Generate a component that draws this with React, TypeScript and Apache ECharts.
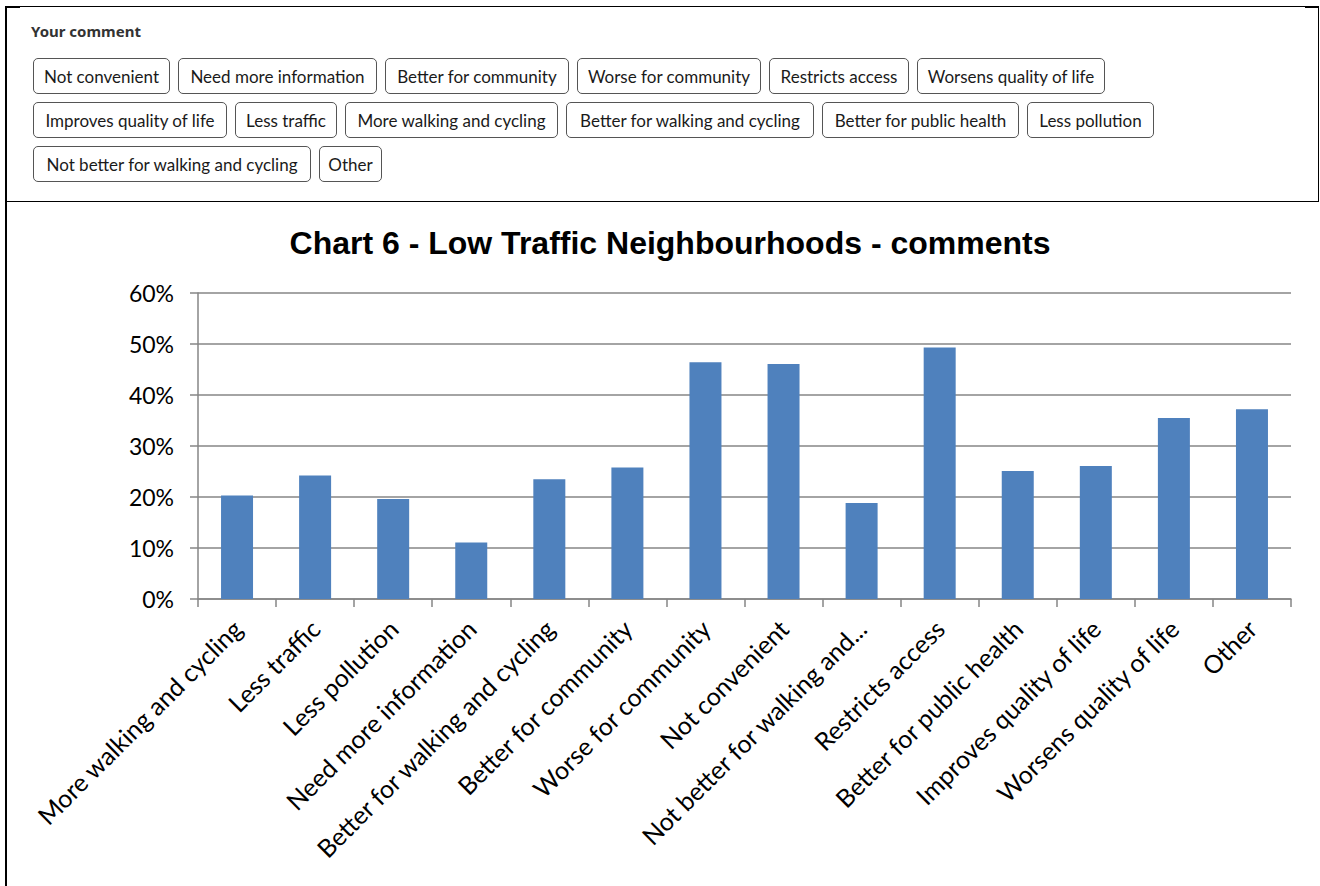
import React, { useEffect, useRef } from "react";
import * as echarts from "echarts";

const categories = [
  "More walking and cycling",
  "Less traffic",
  "Less pollution",
  "Need more information",
  "Better for walking and cycling",
  "Better for community",
  "Worse for community",
  "Not convenient",
  "Not better for walking and cycling",
  "Restricts access",
  "Better for public health",
  "Improves quality of life",
  "Worsens quality of life",
  "Other",
];

const values = [20.3, 24.2, 19.6, 11.1, 23.5, 25.8, 46.4, 46.1, 18.8, 49.3, 25.1, 26.1, 35.5, 37.2];

const yTicks = [0, 10, 20, 30, 40, 50, 60];

const commentOptions = [
  "Not convenient",
  "Need more information",
  "Better for community",
  "Worse for community",
  "Restricts access",
  "Worsens quality of life",
  "Improves quality of life",
  "Less traffic",
  "More walking and cycling",
  "Better for walking and cycling",
  "Better for public health",
  "Less pollution",
  "Not better for walking and cycling",
  "Other",
];

const buttonWidths = [137, 199, 184, 184, 140, 188, 194, 102, 213, 248, 197, 127, 278, 63];

const chartTitle = "Chart 6 - Low Traffic Neighbourhoods - comments";

function Chart() {
  const ref = useRef<HTMLDivElement>(null);
  useEffect(() => {
    if (!ref.current) return;
    const chart = echarts.init(ref.current, undefined, { renderer: "svg" });
    const grey = "#868686";
    chart.setOption({
      animation: false,
      title: {
        text: chartTitle,
        left: 665,
        top: 20,
        textAlign: "center",
        textStyle: {
          fontFamily: "Liberation Sans",
          fontWeight: "bold",
          fontSize: 32,
          color: "#000",
        },
      },
      grid: { left: 198, right: 29, top: 91, bottom: 287, containLabel: false },
      xAxis: {
        type: "category",
        data: categories,
        boundaryGap: true,
        axisLine: { show: true, lineStyle: { color: grey, width: 1.5 } },
        axisTick: { show: true, length: 8, lineStyle: { color: grey, width: 1.5 } },
        axisLabel: {
          interval: 0,
          rotate: 45,
          margin: 25,
          fontFamily: "Lato",
          fontSize: 25,
          color: "#000",
          formatter: (v: string) => (v.length > 30 ? v.slice(0, 26) + "..." : v),
        },
      },
      yAxis: {
        type: "value",
        min: yTicks[0],
        max: yTicks[yTicks.length - 1],
        interval: 10,
        axisLine: { show: true, lineStyle: { color: grey, width: 1.5 } },
        axisTick: { show: true, inside: false, length: 8, lineStyle: { color: grey, width: 1.5 } },
        splitLine: { show: true, lineStyle: { color: grey, width: 1.5 } },
        axisLabel: {
          margin: 24,
          fontFamily: "Lato",
          fontSize: 23,
          color: "#000",
          formatter: "{value}%",
        },
      },
      series: [
        {
          type: "bar",
          data: values,
          barWidth: 32,
          itemStyle: { color: "#4F81BD" },
        },
      ],
    });
    return () => chart.dispose();
  }, []);
  return (
    <div
      ref={ref}
      style={{ position: "absolute", left: 0, top: 202, width: 1320, height: 684 }}
    />
  );
}

export default function App() {
  useEffect(() => {
    document.body.style.margin = "0";
  }, []);
  const line = (s: React.CSSProperties) => (
    <div style={{ position: "absolute", background: "#000", zIndex: 5, ...s }} />
  );
  return (
    <div style={{ position: "relative", width: 1320, height: 886, overflow: "hidden", background: "#fff" }}>
      <Chart />
      {line({ left: 6, top: 6, width: 1313, height: 1 })}
      {line({ left: 6, top: 6, width: 14, height: 2 })}
      {line({ left: 1305, top: 6, width: 14, height: 2 })}
      {line({ left: 5, top: 6, width: 2, height: 880 })}
      {line({ left: 1318, top: 6, width: 1, height: 196 })}
      {line({ left: 6, top: 201, width: 1313, height: 1 })}
      <div
        style={{
          position: "absolute",
          left: 31,
          top: 21,
          fontFamily: "Noto Sans",
          fontWeight: "bold",
          fontSize: 15,
          color: "#333",
          lineHeight: "20px",
        }}
      >
        Your comment
      </div>
      <div
        style={{
          position: "absolute",
          left: 33,
          top: 58,
          width: 1200,
          display: "flex",
          flexWrap: "wrap",
          columnGap: 8,
          rowGap: 8,
        }}
      >
        {commentOptions.map((c, i) => (
          <div
            key={c}
            style={{
              boxSizing: "border-box",
              width: buttonWidths[i],
              height: 36,
              border: "1px solid #555",
              borderRadius: 5,
              display: "flex",
              alignItems: "center",
              justifyContent: "center",
              fontFamily: "Lato",
              fontSize: 17,
              color: "#1a1a1a",
              whiteSpace: "nowrap",
              paddingTop: 1,
            }}
          >
            {c}
          </div>
        ))}
      </div>
    </div>
  );
}
